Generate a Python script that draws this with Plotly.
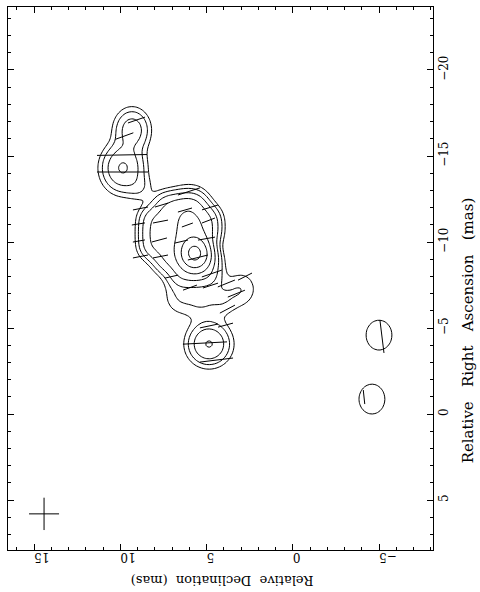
import numpy as np
import plotly.graph_objects as go

# ---- brightness components (Relative Declination, Relative RA in mas) ----
comp_dec = [4.87, -4.99, -4.58, 9.86, 9.33, 5.68, 5.97,
            # plateau
            7.36, 6.55, 5.74,
            8.17, 7.36, 6.55, 5.74, 4.93,
            8.17, 7.36, 6.55, 5.74, 4.93,
            8.17, 7.36, 6.55,
            7.36, 6.55, 5.74, 4.93,
            6.55, 5.74, 4.93,
            # lower lobe
            6.60, 5.39, 4.12, 2.96,
            # bridge
            8.87]
comp_ra = [-4.07, -4.59, -0.87, -14.30, -16.51, -9.36, -10.81,
           -12.15, -12.15, -12.15,
           -11.34, -11.34, -11.34, -11.34, -11.34,
           -10.52, -10.52, -10.52, -10.52, -10.52,
           -9.71, -9.71, -9.71,
           -8.90, -8.90, -8.90, -8.90,
           -8.08, -8.08, -8.08,
           -6.80, -6.55, -6.68, -7.27,
           -13.14]
comp_peak = [8.3, 1.75, 1.75, 8.5, 6.0, 70.0, 9.0,
             4.5, 4.5, 4.5,
             4.5, 4.5, 4.5, 4.5, 4.5,
             4.5, 4.5, 4.5, 4.5, 4.5,
             4.5, 4.5, 4.5,
             4.5, 4.5, 4.5, 4.5,
             4.5, 4.5, 4.5,
             1.75, 1.75, 1.75, 1.75,
             1.5]
comp_sdec = [0.71, 0.71, 0.71, 0.70, 0.60, 0.50, 0.70] + [0.5] * 23 + [0.62] * 4 + [0.5]
comp_sra = [0.71, 0.82, 0.82, 0.80, 0.72, 0.55, 1.10] + [0.5] * 23 + [0.72] * 4 + [0.5]
contour_levels = [1, 2, 4, 8, 16, 32, 64]

# ---- polarization vectors: centre (dec, ra), length (mas), angle (deg) ----
pol_dec = [9.77, 9.07, 9.91, 9.88,
           6.03, 8.84, 7.62, 6.26, 4.81,
           8.96, 7.68, 6.12, 4.90,
           8.93, 7.74, 6.46, 5.01,
           8.84, 7.68, 5.51,
           7.04, 4.70,
           5.97, 4.78, 3.86, 3.28, 3.80, 2.78,
           5.10, 4.87, 3.91, 4.43,
           -5.16, -4.12]
pol_ra = [-16.16, -17.09, -15.06, -14.07,
          -12.94, -11.95, -12.15, -11.86, -12.01,
          -11.05, -11.19, -10.99, -11.25,
          -10.06, -10.12, -10.03, -10.20,
          -9.16, -9.16, -9.10,
          -7.99, -8.17,
          -7.35, -7.47, -7.59, -7.00, -6.10, -7.99,
          -4.13, -5.12, -5.17, -3.14,
          -4.51, -0.99]
pol_len = [1.1, 1.05, 2.9, 2.96,
           1.34, 0.89, 0.79, 0.85, 0.97,
           0.77, 0.89, 0.68, 0.81,
           0.71, 0.90, 0.78, 1.00,
           0.89, 0.89, 1.20,
           0.78, 1.23,
           0.86, 0.92, 1.07, 1.07, 0.99, 0.91,
           2.56, 1.07, 0.90, 1.93,
           1.93, 0.82]
pol_ang = [20, 19, 1, 0,
           18, 11, 17, 16, 17,
           9, 11, 20, 21,
           10, 15, 13, 10,
           11, 11, 14,
           13, 19,
           20, 18, 22, 22, 28, 27,
           3, 12, 15, 7,
           97, 96]

# ---- restoring beam cross ----
beam_dec = [14.43]
beam_ra = [5.8]
beam_half_dec = [0.87]
beam_half_ra = [0.94]

dec_ticks = [15, 10, 5, 0, -5]
dec_ticktext = ["15", "10", "5", "0", "\u22125"]
ra_ticks = [5, 0, -5, -10, -15, -20]
ra_ticktext = ["5", "0", "\u22125", "\u221210", "\u221215", "\u221220"]

# brightness model on a grid
gd = np.arange(-8.2, 16.7, 0.15)
gr = np.arange(-23.8, 8.0, 0.15)
D, R = np.meshgrid(gd, gr)
Z = np.zeros_like(D)
for d0, r0, p, sd, sr in zip(comp_dec, comp_ra, comp_peak, comp_sdec, comp_sra):
    Z += p * np.exp(-0.5 * (((D - d0) / sd) ** 2 + ((R - r0) / sr) ** 2))
ZL = np.log2(np.maximum(Z, 1e-4))

fig = go.Figure()
fig.add_trace(go.Contour(
    x=gd, y=gr, z=ZL,
    contours=dict(coloring="none", start=np.log2(contour_levels[0]),
                  end=np.log2(contour_levels[-1]), size=1),
    line=dict(color="black", width=1), showscale=False, hoverinfo="skip"))

vx, vy = [], []
for d, r, L, a in zip(pol_dec, pol_ra, pol_len, pol_ang):
    t = np.deg2rad(a)
    dd = -0.5 * L * np.cos(t)
    dr = -0.5 * L * np.sin(t)
    vx += [d - dd, d + dd, None]
    vy += [r - dr, r + dr, None]
fig.add_trace(go.Scatter(x=vx, y=vy, mode="lines",
                         line=dict(color="black", width=1), hoverinfo="skip"))

bx, by = [], []
for d, r, hd, hr in zip(beam_dec, beam_ra, beam_half_dec, beam_half_ra):
    bx += [d + hd, d - hd, None, d, d, None]
    by += [r, r, None, r - hr, r + hr, None]
fig.add_trace(go.Scatter(x=bx, y=by, mode="lines",
                         line=dict(color="black", width=1), hoverinfo="skip"))

font = dict(family="DejaVu Serif", size=12, color="black")
axis_common = dict(showgrid=False, zeroline=False, showline=True, mirror="ticks",
                   linecolor="black", linewidth=1, ticks="inside", ticklen=6,
                   tickcolor="black", tickwidth=1,
                   minor=dict(ticks="inside", ticklen=3, dtick=1, tickcolor="black"),
                   tickfont=font)

fig.update_layout(
    width=480, height=592,
    margin=dict(l=8, r=47, t=7, b=42, autoexpand=False),
    paper_bgcolor="white", plot_bgcolor="white", showlegend=False,
    xaxis=dict(range=[16.52, -8.12], tickvals=dec_ticks, ticktext=dec_ticktext,
               tickangle=180, **axis_common),
    yaxis=dict(range=[7.9, -23.66], tickvals=ra_ticks, ticktext=ra_ticktext,
               side="right", tickangle=-90, **axis_common),
    annotations=[
        dict(text="Relative  Declination  (mas)", xref="paper", yref="paper",
             x=0.504, y=-0.055, xanchor="center", yanchor="middle",
             showarrow=False, textangle=180,
             font=dict(family="DejaVu Serif", size=13, color="black")),
        dict(text="Relative   Right   Ascension   (mas)", xref="paper", yref="paper",
             x=1.083, y=0.405, xanchor="center", yanchor="middle",
             showarrow=False, textangle=-90,
             font=dict(family="DejaVu Serif", size=15, color="black")),
    ],
)
fig.write_html("out.html", config={"displayModeBar": False},
               post_script="document.body.style.margin='0';document.body.style.overflow='hidden';")
